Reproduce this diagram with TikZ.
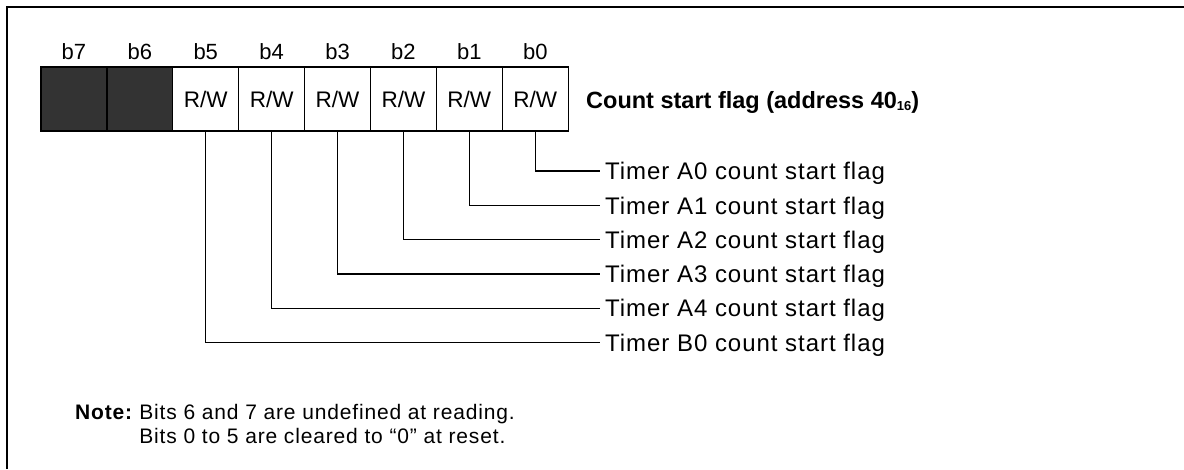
\documentclass[tikz,border=0pt]{standalone}
\usepackage{fontspec}
\setmainfont{Liberation Sans}
\newfontfamily\spacedfont[LetterSpace=4]{Liberation Sans}
\newcommand{\fsz}[1]{\fontsize{#1}{#1}\selectfont}
\begin{document}
\begin{tikzpicture}[x=1pt,y=-1pt,
  cell/.style={draw, line width=1.2pt, minimum width=65.9pt, minimum height=64pt, inner sep=0pt, font=\fsz{22.5}},
  rcell/.style={cell, fill=white},
  ucell/.style={cell, fill=black!80},
  bitlab/.style={anchor=base, inner sep=0pt, font=\fsz{22}},
  tlab/.style={anchor=west, inner xsep=5pt, inner ysep=0pt, text height=17pt, text depth=0pt, font=\spacedfont\fsz{24}},
  notelab/.style={anchor=base west, inner sep=0pt, font=\spacedfont\fontsize{21}{24}\selectfont},
  conn/.style={line width=1.3pt},
  frame/.style={line width=2.2pt}
]
\useasboundingbox (0,0) rectangle (1184,469);
\draw[frame] (7,469) -- (7,7) -- (1184,7);

% register cells
\foreach \i/\s in {7/ucell,6/ucell,5/rcell,4/rcell,3/rcell,2/rcell,1/rcell,0/rcell} {
  \node[\s] (c\i) at ({41+65.9*(7-\i)+32.95},99) {\ifnum\i>5\else R/W\fi};
  \node[bitlab] (l\i) at ({41+65.9*(7-\i)+32.95},59) {b\i};
}

\node[anchor=west, inner xsep=0pt, inner ysep=0pt, text height=16pt, text depth=0pt, font=\fsz{23.5}\bfseries]
  (title) at (586,100) {Count start flag (address 40\raisebox{-2pt}{\fsz{13}16})};

% timer labels
\node[tlab] (t0) at (600,171) {Timer A0 count start flag};
\node[tlab] (t1) at (600,205.5) {Timer A1 count start flag};
\node[tlab] (t2) at (600,239.8) {Timer A2 count start flag};
\node[tlab] (t3) at (600,274) {Timer A3 count start flag};
\node[tlab] (t4) at (600,308.3) {Timer A4 count start flag};
\node[tlab] (t5) at (600,342.5) {Timer B0 count start flag};

\draw[conn] (c0.south) |- (t0.west);
\draw[conn] (c1.south) |- (t1.west);
\draw[conn] (c2.south) |- (t2.west);
\draw[conn] (c3.south) |- (t3.west);
\draw[conn] (c4.south) |- (t4.west);
\draw[conn] (c5.south) |- (t5.west);

% note
\node[notelab, anchor=north west] (note) at (75,402) {%
  \begin{tabular}{@{}l@{\hspace{0.3em}}l@{}}
  \textbf{Note:} & Bits 6 and 7 are undefined at reading.\\
   & Bits 0 to 5 are cleared to “0” at reset.
  \end{tabular}};
\end{tikzpicture}
\end{document}
